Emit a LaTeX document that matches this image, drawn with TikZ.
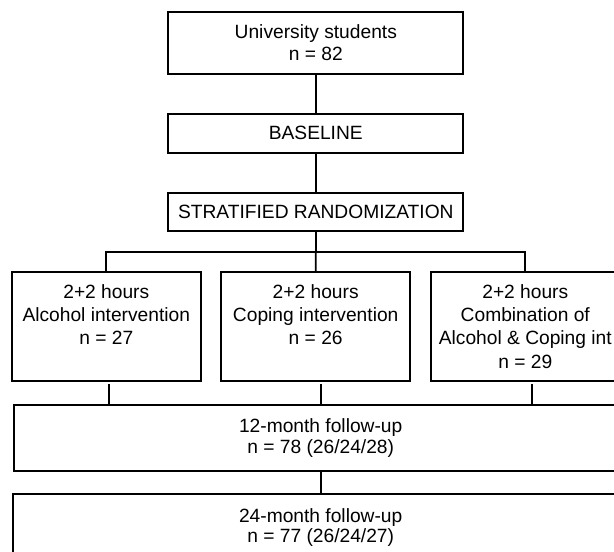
\documentclass[tikz,border=0pt]{standalone}
\usepackage{fontspec}
\setmainfont{Liberation Sans}
\begin{document}
\begin{tikzpicture}[x=1pt,y=-1pt,
  box/.style={draw=black, line width=1.9pt, rectangle, align=center, inner sep=0pt,
    font=\fontsize{19.2}{23.3}\selectfont},
  conn/.style={draw=black, line width=1.7pt}]
\path[use as bounding box] (0,0) rectangle (614,552);
\clip (0,0) rectangle (614,552);
% top column
\node[box, minimum width=295pt, minimum height=62pt, font=\fontsize{19.2}{22.7}\selectfont]
  (stud) at (315.8,42.7) {University students\\n = 82};
\node[box, minimum width=295pt, minimum height=38.7pt] (base) at (315.8,133.3) {BASELINE};
\node[box, minimum width=295pt, minimum height=38.6pt] (strat) at (315.8,212) {STRATIFIED RANDOMIZATION};
% interventions
\node[box, minimum width=189.3pt, minimum height=109pt] (a1) at (106.3,326.2)
  {2+2 hours\\Alcohol intervention\\n = 27\\\phantom{0}};
\node[box, minimum width=188.7pt, minimum height=109pt] (a2) at (315.7,326.2)
  {2+2 hours\\Coping intervention\\n = 26\\\phantom{0}};
\node[box, minimum width=189.3pt, minimum height=109pt] (a3) at (525.3,326.2)
  {2+2 hours\\Combination of\\Alcohol \& Coping int\\n = 29};
% follow-ups
\node[box, minimum width=613.4pt, minimum height=66pt, font=\fontsize{19.2}{20.7}\selectfont]
  (f12) at (320.7,438) {12-month follow-up\\n = 78 (26/24/28)};
\node[box, minimum width=616pt, minimum height=66pt, font=\fontsize{19.2}{20}\selectfont]
  (f24) at (320.7,527.3) {24-month follow-up\\n = 77 (26/24/27)};
% connectors
\coordinate (split) at (315.8,251.7);
\draw[conn] (stud.south) -- (base.north);
\draw[conn] (base.south) -- (strat.north);
\draw[conn] (strat.south) -- (split);
\draw[conn] (a1.north) |- (split) -| (a3.north);
\draw[conn] (split) -- (a2.north);
\coordinate (b1) at (108.7,384);
\coordinate (b2) at (320.7,384);
\coordinate (b3) at (532,384);
\draw[conn] (b1) -- (b1 |- f12.north);
\draw[conn] (b2) -- (b2 |- f12.north);
\draw[conn] (b3) -- (b3 |- f12.north);
\draw[conn] (f12.south) -- (f24.north);
\end{tikzpicture}
\end{document}
